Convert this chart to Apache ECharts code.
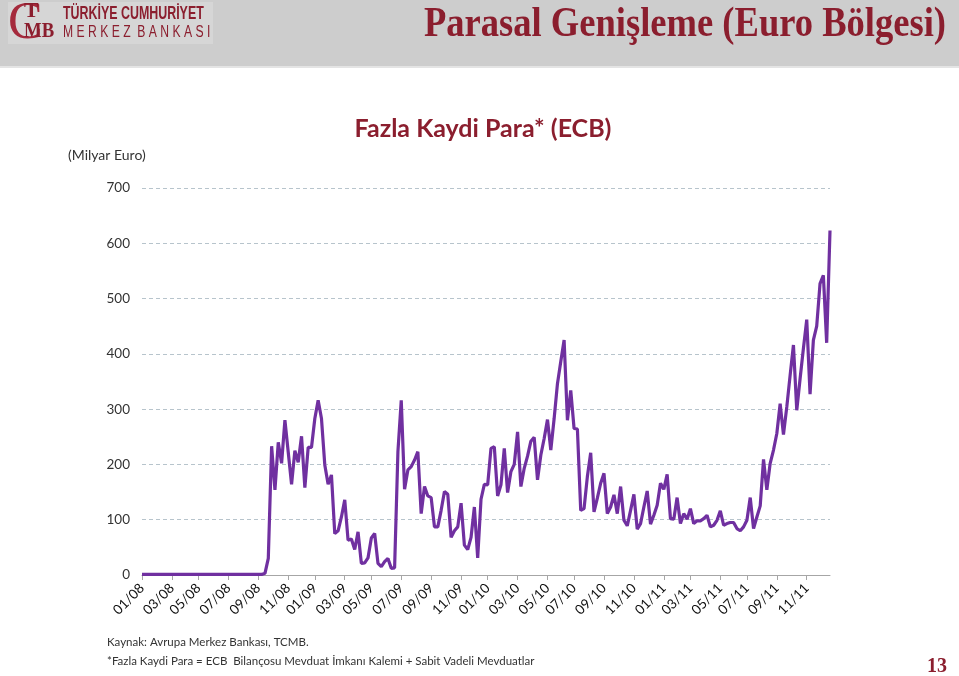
<!DOCTYPE html>
<html>
<head>
<meta charset="utf-8">
<script src="https://cdn.jsdelivr.net/npm/echarts/dist/echarts.min.js"></script>
<style>
html,body{margin:0;padding:0;background:#fff;}
#chart{width:959px;height:676px;}
</style>
</head>
<body>
<div id="chart"></div>
<script>
// Weekly observations (Fridays), first week and count
const startDate = '2008-01-04';
const weekCount = 208;

// Values in billion euro
const vals2008 = [1,1,1,1,1,1,1,1,1,1, 1,1,1,1,1,1,1,1,1,1, 1,1,1,1,1,1,1,1,1,1, 1,1,1,1,1,1,1,3,
  30,233,154,240,202,280,222,164,225,204,251,158,231,231];
const vals2009 = [283,316,283,199,164,181,75,80,105,136, 63,65,46,78,21,22,31,67,75,21,
  15,24,30,12,13,223,316,155,190,196, 208,223,111,160,143,140,87,87,117,151,
  146,68,80,87,130,54,46,68,123,31, 137,164];
const vals2010 = [163,229,232,143,163,229,149,187,200,259, 160,193,215,242,249,172,217,247,281,226,
  283,346,386,425,280,334,265,264,117,120, 178,221,114,139,166,184,111,123,145,111,
  160,99,89,117,146,83,93,123,152,92, 108,126,166];
const vals2011 = [155,182,102,101,140,93,111,101,120,93, 98,98,102,108,87,90,99,116,90,93,
  95,95,84,80,87,99,140,84,105,125, 209,154,202,226,256,310,254,304,361,416,
  298,355,410,462,327,425,450,527,542,420, 623];

const yTicks = [0,100,200,300,400,500,600,700];

// Build weekly date categories
const categories = [];
(function(){
  const d0 = new Date(startDate + 'T00:00:00Z');
  for (let i = 0; i < weekCount; i++) {
    const d = new Date(d0.getTime() + i * 7 * 86400000);
    const mm = String(d.getUTCMonth() + 1).padStart(2, '0');
    const dd = String(d.getUTCDate()).padStart(2, '0');
    categories.push(d.getUTCFullYear() + '-' + mm + '-' + dd);
  }
})();
const values = vals2008.concat(vals2009, vals2010, vals2011);

function isTick(idx, val) {
  const c = categories[idx];
  const m = parseInt(c.slice(5, 7), 10);
  const day = parseInt(c.slice(8, 10), 10);
  return (m % 2 === 1) && day <= 7;
}
function fmtLabel(val) {
  return val.slice(5, 7) + '/' + val.slice(2, 4);
}

const maroon = '#8b1e2e';
const chart = echarts.init(document.getElementById('chart'), null, {renderer: 'canvas'});
chart.setOption({
  animation: false,
  backgroundColor: '#ffffff',
  grid: {left: 142, right: 129, top: 188, bottom: 101, containLabel: false},
  xAxis: {
    type: 'category',
    data: categories,
    boundaryGap: false,
    axisLine: {show: true, lineStyle: {color: '#a6a6a6', width: 1}},
    axisTick: {show: true, interval: isTick, length: 5, lineStyle: {color: '#a6a6a6'}},
    axisLabel: {interval: isTick, rotate: 45, formatter: fmtLabel, fontSize: 13.5,
      fontFamily: 'Lato', color: '#111111', margin: 11}
  },
  yAxis: {
    type: 'value',
    min: yTicks[0], max: yTicks[yTicks.length - 1], interval: 100,
    axisLine: {show: false},
    axisTick: {show: false},
    axisLabel: {fontSize: 13.5, fontFamily: 'Lato', color: '#333333', margin: 12},
    splitLine: {lineStyle: {color: '#b7c4cc', type: [4, 3], width: 1}}
  },
  series: [{
    type: 'line',
    data: values,
    symbol: 'none',
    lineStyle: {color: '#7030a0', width: 3.2},
    itemStyle: {color: '#7030a0'}
  }],
  graphic: [
    {type: 'rect', shape: {x: 0, y: 0, width: 959, height: 66}, style: {fill: '#cdcdcd'}, z: -1},
    {type: 'rect', shape: {x: 0, y: 66, width: 959, height: 2}, style: {fill: '#e4e4e4'}, z: -1},
    {type: 'rect', shape: {x: 8, y: 2, width: 205, height: 42}, style: {fill: '#d6d6d6'}, z: 0},
    // logo
    {type: 'text', x: 8, y: 24, style: {text: 'C', font: '52px "Liberation Serif"', fill: '#a52a3c', textVerticalAlign: 'middle'}, z: 1},
    {type: 'text', x: 24, y: 11, style: {text: 'T', font: 'bold 22px "Liberation Serif"', fill: maroon, textVerticalAlign: 'middle'}, z: 1},
    {type: 'text', x: 24, y: 31, scaleX: 0.85, style: {text: 'MB', font: 'bold 22px "Liberation Serif"', fill: maroon, textVerticalAlign: 'middle'}, z: 1},
    {type: 'text', x: 63, y: 14, scaleX: 0.69, style: {text: 'TÜRKİYE CUMHURİYET', font: 'bold 18px "Liberation Sans"', fill: maroon, textVerticalAlign: 'middle'}, z: 1},
    {type: 'text', x: 63, y: 33, scaleX: 0.76, style: {text: 'M E R K E Z  B A N K A S I', font: '16px "Liberation Sans"', fill: maroon, textVerticalAlign: 'middle'}, z: 1},
    // main title
    {type: 'text', x: 946, y: 25, scaleX: 0.87, style: {text: 'Parasal Genişleme (Euro Bölgesi)', font: 'bold 42px "Liberation Serif"', fill: maroon, textAlign: 'right', textVerticalAlign: 'middle'}, z: 1},
    // chart subtitle
    {type: 'text', x: 483, y: 129, style: {text: 'Fazla Kaydi Para* (ECB)', font: 'bold 25px Lato', fill: maroon, textAlign: 'center', textVerticalAlign: 'middle'}},
    {type: 'text', x: 68, y: 155, style: {text: '(Milyar Euro)', font: '14px Lato', fill: '#333333', textVerticalAlign: 'middle'}},
    // footnotes
    {type: 'text', x: 107, y: 642, style: {text: 'Kaynak: Avrupa Merkez Bankası, TCMB.', font: '11.5px Lato', fill: '#333333', textVerticalAlign: 'middle'}},
    {type: 'text', x: 107, y: 661, style: {text: '*Fazla Kaydi Para = ECB  Bilançosu Mevduat İmkanı Kalemi + Sabit Vadeli Mevduatlar', font: '11.5px Lato', fill: '#333333', textVerticalAlign: 'middle'}},
    {type: 'text', x: 947, y: 667, style: {text: '13', font: 'bold 20px "Liberation Serif"', fill: maroon, textAlign: 'right', textVerticalAlign: 'middle'}}
  ]
});
</script>
</body>
</html>
